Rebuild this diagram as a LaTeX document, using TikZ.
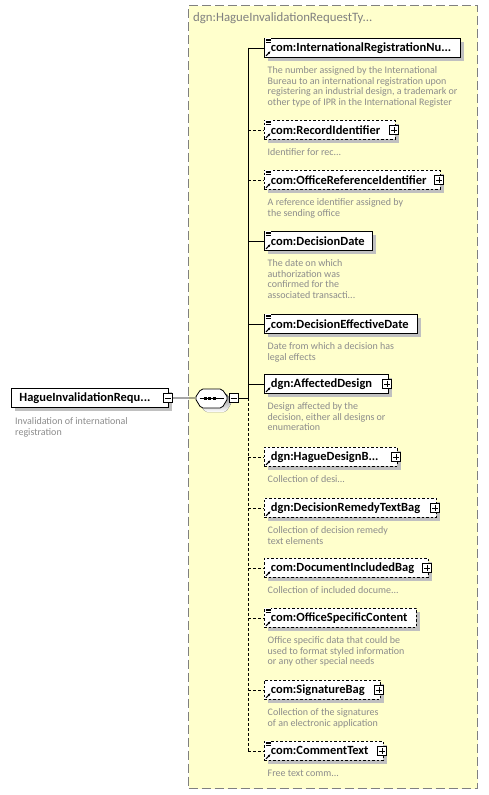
\documentclass[tikz,border=0pt]{standalone}
\usepackage{fontspec}
\setmainfont{Carlito}
\usetikzlibrary{shadows,arrows.meta}
\definecolor{ylw}{RGB}{255,255,204}
\definecolor{framec}{RGB}{128,128,128}
\definecolor{descc}{RGB}{140,140,140}
\definecolor{shade}{RGB}{192,192,192}
\newcommand\ddd{...}
\tikzset{
 elem/.style={draw=black, fill=white, line width=0.8pt, minimum height=19pt, inner xsep=0pt, inner ysep=0pt,
   anchor=north west, align=left, font=\fontsize{12.5}{14}\selectfont\bfseries,
   drop shadow={shadow xshift=4pt, shadow yshift=-4pt, fill=shade, opacity=1}},
 opt/.style={dash pattern=on 2.5pt off 2pt},
 descr/.style={anchor=base west, inner sep=0pt, text=descc, font=\fontsize{10}{11}\selectfont},
 conn/.style={draw=black, line width=0.8pt},
 optconn/.style={conn, dash pattern=on 3pt off 2pt},
 boxsym/.style={draw=black, fill=white, line width=0.7pt, minimum size=9pt, inner sep=0pt},
 sign/.style={draw=black, line width=0.8pt},
}
\newcommand\kid[7]{%
  \node[elem,#4,text width=#3pt] (#1) at (264,#2) {\hspace*{6.5pt}#5};
  \ifnum#6=1
    \fill[white] ([xshift=0.8pt,yshift=-0.4pt]#1.north west) rectangle +(6.5,5.5);
    \foreach \k in {1,2.7,4.4}
      \draw[black,line width=0.7pt] ([xshift=1.5pt]#1.north west) ++(0,\k) -- +(5,0);
  \fi
  \draw[black,line width=1pt,-{Latex[length=2.6pt,width=2.8pt]}] ([xshift=2pt,yshift=2pt]#1.south west) -- +(4.5,-4.5);
  \ifnum#7=1
    \node[boxsym] (#1p) at ([xshift=-1.5pt]#1.east) {};
    \draw[sign] (#1p.center) +(-3,0) -- +(3,0) (#1p.center) +(0,-3) -- +(0,3);
  \fi
}
\newcommand\desc[3]{%
  \foreach \l [count=\i] in {#3}
    \node[descr] (#1d\i) at (267.5,{#2+35.5+(\i-1)*10.6}) {\l};
}
\begin{document}
\begin{tikzpicture}[x=1pt,y=-1pt]
\fill[white] (0,0) rectangle (488,795);
\useasboundingbox (0,0) rectangle (488,795);

% container
\node[draw=framec, fill=ylw, dash pattern=on 9pt off 4pt, line width=1pt, minimum width=289pt,
      minimum height=783pt, anchor=north west, inner sep=0pt] (cbox) at (188,5) {};
\node[anchor=west, inner sep=0pt, text=framec, font=\fontsize{12.8}{14}\selectfont] (ctitle) at (193,18) {dgn:HagueInvalidationRequestTy...};

% root
\node[elem, text width=157pt] (root) at (11,388) {\hspace*{8pt}HagueInvalidationRequ...};
\node[boxsym] (rootm) at ([xshift=-0.5pt]root.east) {};
\draw[sign] (rootm.center) +(-3,0) -- +(3,0);
\node[descr] (rootd1) at (15,424) {Invalidation of international};
\node[descr] (rootd2) at (15,435) {registration};

% sequence
\coordinate (seq) at (211.5,398);
\fill[shade, rounded corners=2pt] (199,402) -- (205,393) -- (226,393) -- (232,402) -- (226,412) -- (205,412) -- cycle;
\draw[black, line width=0.8pt, fill=white, rounded corners=2pt] (195,398) -- (201,389) -- (222,389) -- (228,398) -- (222,408) -- (201,408) -- cycle;
\draw[black, line width=0.8pt] (199.5,398) -- (223.5,398);
\foreach \xx in {205.5,209.8,214.1} \fill[black] (\xx-1.5,396.5) rectangle (\xx+1.5,399.5);
\node[boxsym] (seqm) at (233.5,398) {};
\draw[sign] (seqm.center) +(-3,0) -- +(3,0);
\draw[conn] (rootm.east) -- (195,398);

% trunk
\coordinate (tt) at (248,47.5);
\coordinate (tm) at (248,398);
\coordinate (tb) at (248,750.5);
\draw[conn] (seqm.east) -- (tm);
\draw[conn] (tt) -- (tm);
\draw[optconn] (tm) -- (tb);

% children
\kid{e1}{38}{196}{}{com:InternationalRegistrationNu...}{1}{0}
\kid{e2}{120}{131}{opt}{com:RecordIdentifier}{1}{1}
\kid{e3}{170}{176}{opt}{com:OfficeReferenceIdentifier}{1}{1}
\kid{e4}{231}{108}{}{com:DecisionDate}{1}{0}
\kid{e5}{314}{153}{}{com:DecisionEffectiveDate}{1}{0}
\kid{e6}{374}{124}{}{dgn:AffectedDesign}{0}{1}
\kid{e7}{447}{133}{opt}{dgn:HagueDesignB...}{0}{1}
\kid{e8}{498}{172}{opt}{dgn:DecisionRemedyTextBag}{0}{1}
\kid{e9}{558}{164}{opt}{com:DocumentIncludedBag}{0}{1}
\kid{e10}{608}{152}{opt}{com:OfficeSpecificContent}{1}{0}
\kid{e11}{680}{116}{opt}{com:SignatureBag}{0}{1}
\kid{e12}{741}{119}{opt}{com:CommentText}{1}{1}

\desc{e1}{38}{The number assigned by the International, Bureau to an international registration upon, {registering an industrial design, a trademark or}, other type of IPR in the International Register}
\desc{e2}{120}{Identifier for rec\ddd}
\desc{e3}{170}{A reference identifier assigned by, the sending office}
\desc{e4}{231}{The date on which, authorization was, confirmed for the, associated transacti\ddd}
\desc{e5}{314}{Date from which a decision has, legal effects}
\desc{e6}{374}{Design affected by the, {decision, either all designs or}, enumeration}
\desc{e7}{447}{Collection of desi\ddd}
\desc{e8}{498}{Collection of decision remedy, text elements}
\desc{e9}{558}{Collection of included docume\ddd}
\desc{e10}{608}{Office specific data that could be, used to format styled information, or any other special needs}
\desc{e11}{680}{Collection of the signatures, of an electronic application}
\desc{e12}{741}{Free text comm\ddd}

% connectors
\foreach \n in {e1,e4,e5,e6} \draw[conn] (\n.west -| tm) -- (\n.west);
\foreach \n in {e2,e3,e7,e8,e9,e10,e11,e12} \draw[optconn] (\n.west -| tm) -- (\n.west);
\end{tikzpicture}
\end{document}
